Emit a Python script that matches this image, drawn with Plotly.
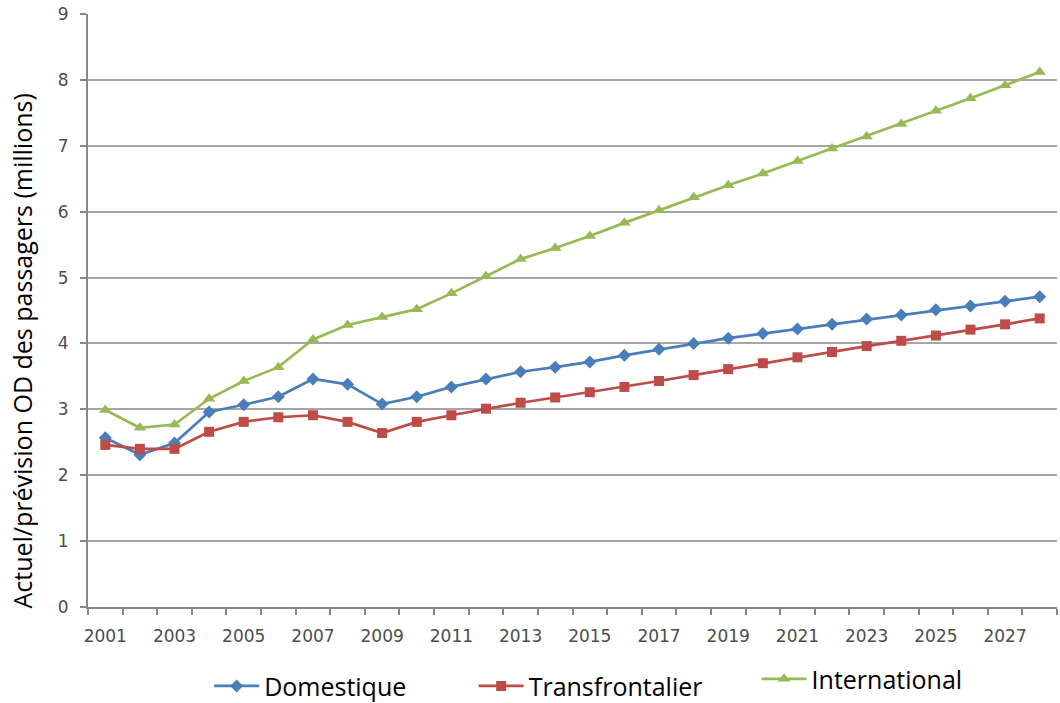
import plotly.graph_objects as go

years = list(range(2001, 2029))
domestique = [2.57, 2.31, 2.49, 2.96, 3.07, 3.19, 3.46, 3.38, 3.08, 3.19, 3.34, 3.46, 3.57, 3.64,
              3.72, 3.82, 3.91, 4.00, 4.08, 4.15, 4.22, 4.29, 4.37, 4.43, 4.51, 4.57, 4.64, 4.71]
transfrontalier = [2.46, 2.40, 2.40, 2.66, 2.81, 2.88, 2.91, 2.81, 2.64, 2.81, 2.91, 3.01, 3.10, 3.18,
                   3.26, 3.34, 3.43, 3.52, 3.61, 3.70, 3.79, 3.87, 3.96, 4.04, 4.12, 4.21, 4.29, 4.38]
international = [2.99, 2.72, 2.77, 3.16, 3.43, 3.64, 4.06, 4.28, 4.40, 4.52, 4.76, 5.02, 5.28, 5.45,
                 5.63, 5.83, 6.02, 6.22, 6.40, 6.58, 6.77, 6.96, 7.14, 7.33, 7.53, 7.72, 7.92, 8.12]
tick_years = list(range(2001, 2029, 2))
y_title = "Actuel/prévision OD des passagers (millions)"

fig = go.Figure()
fig.add_trace(go.Scatter(x=years, y=domestique, name="Domestique", mode="lines+markers",
                         line=dict(color="#4a7ebb", width=2.7),
                         marker=dict(symbol="diamond", size=10, color="#4a7ebb"),
                         legend="legend", showlegend=True))
fig.add_trace(go.Scatter(x=years, y=transfrontalier, name="Transfrontalier", mode="lines+markers",
                         line=dict(color="#be4b48", width=2.7),
                         marker=dict(symbol="square", size=10, color="#be4b48"),
                         legend="legend2", showlegend=True))
fig.add_trace(go.Scatter(x=years, y=international, name="International", mode="lines+markers",
                         line=dict(color="#98b954", width=2.7),
                         marker=dict(symbol="triangle-up", size=11, color="#98b954"),
                         legend="legend3", showlegend=True))

leg_common = dict(orientation="h", yanchor="middle", xanchor="left", itemwidth=45,
                  xref="paper", yref="container",
                  font=dict(family="Open Sans", size=25, color="black"),
                  bgcolor="rgba(0,0,0,0)")
fig.update_layout(
    width=1060, height=703,
    showlegend=True,
    margin=dict(l=88, r=3, t=14, b=96),
    plot_bgcolor="white", paper_bgcolor="white",
    legend=dict(x=0.125, y=0.024, **leg_common),
    legend2=dict(x=0.398, y=0.024, **leg_common),
    legend3=dict(x=0.690, y=0.034, **leg_common),
    xaxis=dict(range=[2000.5, 2028.5], tickvals=tick_years, ticks="", showgrid=False,
               showline=True, linecolor="#868686", linewidth=2, zeroline=False,
               automargin=False, ticklabelstandoff=13,
               tickfont=dict(family="DejaVu Sans", size=17, color="#4d4d4d"),
               minor=dict(tickvals=[y - 0.5 for y in years] + [2028.5], ticks="outside",
                          ticklen=6, tickcolor="#868686", tickwidth=1.5, showgrid=False)),
    yaxis=dict(range=[0, 9], dtick=1, showgrid=True, gridcolor="#a6a6a6", gridwidth=1.5,
               showline=True, linecolor="#868686", linewidth=2, zeroline=False,
               automargin=False, ticklabelstandoff=8,
               ticks="outside", ticklen=6, tickcolor="#868686", tickwidth=1.5,
               tickfont=dict(family="DejaVu Sans", size=17, color="#4d4d4d")),
    annotations=[dict(text=y_title, textangle=-90, xref="paper", yref="paper",
                      x=-0.068, y=0.431, xanchor="center", yanchor="middle", showarrow=False,
                      font=dict(family="Open Sans", size=25, color="black"))],
)
fig.write_html("out.html", config={"displayModeBar": False},
               post_script="document.body.style.margin='0';")
